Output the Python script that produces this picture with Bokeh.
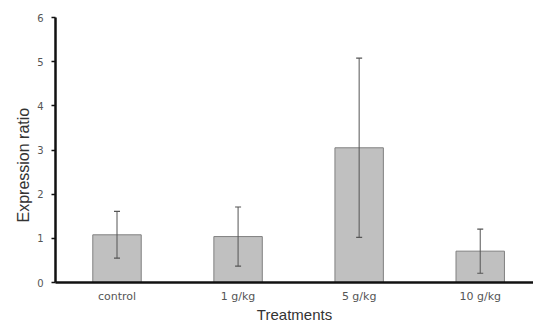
from bokeh.plotting import figure
from bokeh.models import ColumnDataSource, FixedTicker, Title
from bokeh.embed import file_html
from bokeh.resources import INLINE

categories = ["control", "1 g/kg", "5 g/kg", "10 g/kg"]
means = [1.08, 1.04, 3.05, 0.71]
errors = [0.53, 0.67, 2.03, 0.50]
y_ticks = [0, 1, 2, 3, 4, 5, 6]

xs = list(range(len(categories)))
src = ColumnDataSource(dict(
    x=xs, top=means,
    upper=[m + e for m, e in zip(means, errors)],
    lower=[m - e for m, e in zip(means, errors)],
))

p = figure(width=533, height=325, output_backend="svg", toolbar_location=None,
           x_range=(-0.508, 3.44), y_range=(0, 6),
           min_border_left=55, min_border_right=0, min_border_top=17, min_border_bottom=43)
p.outline_line_color = None
p.xgrid.visible = False
p.ygrid.visible = False

p.vbar(x="x", top="top", bottom=0, width=0.4, source=src,
       fill_color="#c0c0c0", line_color="#808080", line_width=1)

# error bars drawn on top of bars
p.segment(x0="x", y0="lower", x1="x", y1="upper", source=src,
          line_color="#555555", line_width=1)
p.dash(x="x", y="upper", size=6, source=src, line_color="#555555", line_width=1.2)
p.dash(x="x", y="lower", size=6, source=src, line_color="#555555", line_width=1.2)

# x axis
p.xaxis.ticker = FixedTicker(ticks=xs)
p.xaxis.major_label_overrides = {i: c for i, c in enumerate(categories)}
p.xaxis.major_tick_out = 0
p.xaxis.major_tick_in = 0
p.xaxis.minor_tick_line_color = None
p.xaxis.axis_line_width = 2.5
p.xaxis.axis_line_color = "#111111"
p.xaxis.major_label_text_font = "DejaVu Sans"
p.xaxis.major_label_text_font_size = "11px"
p.xaxis.major_label_text_color = "#555555"
p.xaxis.major_label_standoff = 7
p.xaxis.axis_label = "Treatments"
p.xaxis.axis_label_text_font = "Liberation Sans"
p.xaxis.axis_label_text_font_size = "15px"
p.xaxis.axis_label_text_font_style = "normal"
p.xaxis.axis_label_text_color = "#333333"
p.xaxis.axis_label_standoff = 0

# y axis
p.yaxis.ticker = FixedTicker(ticks=y_ticks)
p.yaxis.major_tick_out = 4
p.yaxis.major_tick_in = 0
p.yaxis.major_tick_line_width = 1.5
p.yaxis.major_tick_line_color = "#111111"
p.yaxis.minor_tick_line_color = None
p.yaxis.axis_line_width = 2.5
p.yaxis.axis_line_color = "#111111"
p.yaxis.major_label_text_font = "DejaVu Sans"
p.yaxis.major_label_text_font_size = "10px"
p.yaxis.major_label_text_color = "#555555"
p.yaxis.major_label_standoff = 8

ytitle = Title(text="Expression ratio", align="left", offset=60,
               text_font="Liberation Sans", text_font_size="16px",
               text_font_style="normal", text_color="#333333", standoff=6)
p.add_layout(ytitle, "left")

open("out.html", "w").write(file_html(p, INLINE))
